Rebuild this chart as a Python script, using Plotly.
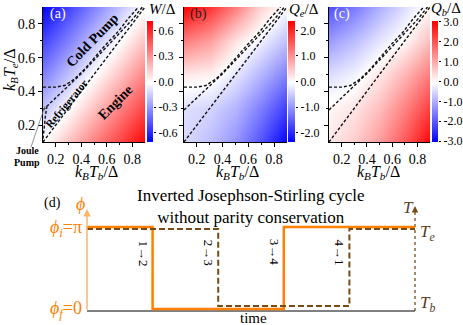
import math
import plotly.graph_objects as go

# ── Canvas helpers (pixel -> paper) ───────────────────────────────────────────
W_PX, H_PX = 463, 325
SERIF = "Liberation Serif"


def px(x):
    return x / W_PX


def py(y):
    return 1 - y / H_PX


# ── Data: maps on a coarse (Tb, Te) grid ─────────────────────────────────────
tb_grid = [0.1, 0.3, 0.5, 0.7, 0.9]
te_grid = [0.1, 0.3, 0.5, 0.7, 0.9]

work = [  # W / Delta, rows = Te, cols = Tb
    [0.00, 0.17, 0.35, 0.52, 0.70],
    [-0.17, 0.00, 0.17, 0.35, 0.52],
    [-0.35, -0.17, 0.00, 0.17, 0.35],
    [-0.52, -0.35, -0.17, 0.00, 0.17],
    [-0.70, -0.52, -0.35, -0.17, 0.00],
]
heat_e = [  # Q_e / Delta
    [-0.35, -0.60, -1.00, -1.60, -2.35],
    [-0.30, -0.40, -0.70, -1.20, -1.80],
    [0.20, 0.13, -0.25, -0.70, -1.20],
    [1.20, 0.90, 0.25, -0.15, -0.60],
    [2.35, 1.90, 1.20, 0.40, -0.05],
]
heat_b = [  # Q_b / Delta
    [0.25, 0.60, 1.20, 2.00, 3.00],
    [0.10, 0.30, 0.80, 1.50, 2.30],
    [-0.40, -0.15, 0.30, 0.90, 1.60],
    [-1.20, -0.80, -0.30, 0.10, 0.80],
    [-2.10, -1.60, -0.95, -0.40, 0.10],
]

# colour-bar limits and ticks
w_lim, e_lim, b_lim = 0.71, 2.37, 3.05
w_ticks = [-0.6, -0.3, 0.0, 0.3, 0.6]
e_ticks = [-2.0, -1.0, 0.0, 1.0, 2.0]
b_ticks = [-3.0, -2.0, -1.0, 0.0, 1.0, 2.0, 3.0]

# boundary curves (dashed)
diag_tb = [0.1, 0.9]
diag_te = [0.1, 0.9]
upper_tb = [0.1, 0.2, 0.27, 0.35, 0.43, 0.51, 0.59, 0.69, 0.77, 0.85]
upper_te = [0.425, 0.425, 0.435, 0.475, 0.535, 0.605, 0.675, 0.755, 0.833, 0.9]
middle_tb = [0.1, 0.2, 0.3, 0.4, 0.5, 0.6, 0.7, 0.8, 0.88]
middle_te = [0.29, 0.36, 0.43, 0.505, 0.585, 0.665, 0.745, 0.825, 0.9]
joule_tb = [0.1, 0.11, 0.12, 0.13]
joule_te = [0.12, 0.2, 0.26, 0.31]

# ── Data: cycle in panel (d) ──────────────────────────────────────────────────
PHI_I, PHI_F = math.pi, 0.0
T_B, T_E = 1.0, 2.0
phase_t = [0, 2, 6, 10]
phase_val = [PHI_I, PHI_F, PHI_I, PHI_I]
temp_t = [0, 4, 8, 10]
temp_val = [T_E, T_B, T_E, T_E]
step_t = [2, 4, 6, 8]
step_labels = ["1→2", "2→3", "3→4", "4→1"]

# ── Style ─────────────────────────────────────────────────────────────────────
BWR = [[0, "rgb(0,0,255)"], [0.5, "rgb(255,255,255)"], [1, "rgb(255,0,0)"]]
ORANGE = "#FF8000"
ORANGE_LIGHT = "#FFB366"
BROWN = "#7a4a14"
T_TEXT = "#5a3d1f"

fig = go.Figure()

panels = [
    ("x", "y", work, w_lim, "x5", "y6"),
    ("x2", "y2", heat_e, e_lim, "x6", "y7"),
    ("x3", "y3", heat_b, b_lim, "x7", "y8"),
]

for xa, ya, z, zlim, cxa, cya in panels:
    fig.add_trace(go.Heatmap(
        x=tb_grid, y=te_grid, z=z, zsmooth="best",
        colorscale=BWR, zmin=-zlim, zmax=zlim, showscale=False,
        xaxis=xa, yaxis=ya, hoverinfo="skip",
    ))
    # colour bar drawn as its own little heat map
    fig.add_trace(go.Heatmap(
        x=[0, 1], y=[-zlim, 0, zlim], z=[[-zlim, -zlim], [0, 0], [zlim, zlim]],
        zsmooth="best", colorscale=BWR, zmin=-zlim, zmax=zlim, showscale=False,
        xaxis=cxa, yaxis=cya, hoverinfo="skip",
    ))
    curves = [(diag_tb, diag_te), (middle_tb, middle_te), (upper_tb, upper_te)]
    if xa == "x":
        curves.append((joule_tb, joule_te))
    for cx, cy in curves:
        fig.add_trace(go.Scatter(
            x=cx, y=cy, mode="lines", showlegend=False,
            line=dict(color="#111", width=1.4, dash="3px,2px"),
            xaxis=xa, yaxis=ya, hoverinfo="skip",
        ))

# panel (d) traces
fig.add_trace(go.Scatter(
    x=temp_t, y=temp_val, mode="lines", line_shape="hv", showlegend=False,
    line=dict(color=BROWN, width=2, dash="6px,3px"),
    xaxis="x4", yaxis="y5",
))
fig.add_trace(go.Scatter(
    x=phase_t, y=phase_val, mode="lines", line_shape="hv", showlegend=False,
    line=dict(color=ORANGE, width=2.5),
    xaxis="x4", yaxis="y4",
))

# ── Axes ──────────────────────────────────────────────────────────────────────
tick_font = dict(family=SERIF, size=14, color="black")


def heat_x(x0, x1, anchor):
    return dict(
        domain=[px(x0), px(x1)], range=[0.1, 0.9], anchor=anchor,
        tickvals=[0.2, 0.4, 0.6, 0.8], ticktext=["0.2", "0.4", "0.6", "0.8"],
        ticks="outside", ticklen=4, tickcolor="black", tickfont=tick_font,
        minor=dict(tickvals=[0.3, 0.5, 0.7], ticks="outside", ticklen=2, tickcolor="black"),
        showline=True, linecolor="black", linewidth=1,
        showgrid=False, zeroline=False, automargin=False,
    )


def heat_y(anchor, labels):
    return dict(
        domain=[py(142), py(7)], range=[0.1, 0.9], anchor=anchor,
        tickvals=[0.2, 0.4, 0.6, 0.8], ticktext=["0.2", "0.4", "0.6", "0.8"],
        showticklabels=labels,
        ticks="outside", ticklen=4, tickcolor="black", tickfont=tick_font,
        minor=dict(tickvals=[0.3, 0.5, 0.7], ticks="outside", ticklen=2, tickcolor="black"),
        showline=True, linecolor="black", linewidth=1,
        showgrid=False, zeroline=False, automargin=False,
    )


def bar_x(x0, x1, anchor):
    return dict(domain=[px(x0), px(x1)], range=[0, 1], anchor=anchor, visible=False)


def bar_y(anchor, lim, ticks):
    return dict(
        domain=[py(142), py(21)], range=[-lim, lim], anchor=anchor, side="right",
        tickvals=ticks, ticktext=[f"{t:.1f}" for t in ticks],
        ticks="outside", ticklen=2, tickcolor="black",
        tickfont=dict(family=SERIF, size=12, color="black"),
        showline=False, showgrid=False, zeroline=False, automargin=False,
    )


phi_span = math.pi / 82
t_span = 1 / 77

fig.update_layout(
    width=W_PX, height=H_PX,
    margin=dict(l=0, r=0, t=0, b=0, autoexpand=False),
    paper_bgcolor="white", plot_bgcolor="white",
    font=dict(family=SERIF, color="black"),
    showlegend=False,
    xaxis=heat_x(43, 145, "y"), yaxis=heat_y("x", True),
    xaxis2=heat_x(184, 287, "y2"), yaxis2=heat_y("x2", False),
    xaxis3=heat_x(329, 430, "y3"), yaxis3=heat_y("x3", False),
    xaxis4=dict(domain=[px(87), px(415)], range=[0, 10], anchor="y4", visible=False),
    yaxis4=dict(domain=[py(313), py(207)], range=[-4 * phi_span, math.pi + 20 * phi_span],
                anchor="x4", visible=False),
    yaxis5=dict(overlaying="y4", range=[T_B - 7 * t_span, T_E + 22 * t_span],
                anchor="x4", visible=False),
    xaxis5=bar_x(147, 153, "y6"), yaxis6=bar_y("x5", w_lim, w_ticks),
    xaxis6=bar_x(288, 295, "y7"), yaxis7=bar_y("x6", e_lim, e_ticks),
    xaxis7=bar_x(432, 438, "y8"), yaxis8=bar_y("x7", b_lim, b_ticks),
)

# ── Decorations for panel (d) ─────────────────────────────────────────────────
shapes = [
    dict(type="line", xref="paper", yref="paper", x0=px(87), x1=px(415),
         y0=py(311), y1=py(311), line=dict(color="#808080", width=2), layer="below"),
    dict(type="line", xref="paper", yref="paper", x0=px(415), x1=px(415),
         y0=py(311), y1=py(212), line=dict(color=BROWN, width=1.3, dash="dot"), layer="below"),
    # Joule pump pointer
    dict(type="line", xref="paper", yref="paper", x0=px(31), x1=px(45),
         y0=py(147), y1=py(106), line=dict(color="#777", width=0.8)),
]

ann = []


def text(x, y, s, size, color="black", angle=0, xanchor="center", **kw):
    ann.append(dict(x=px(x), y=py(y), xref="paper", yref="paper", text=s,
                    showarrow=False, textangle=angle, xanchor=xanchor, yanchor="middle",
                    font=dict(family=SERIF, size=size, color=color), **kw))


# axis arrows
ann.append(dict(x=px(87), y=py(209), xref="paper", yref="paper", ax=0, ay=102,
                text="", showarrow=True, arrowhead=2, arrowsize=1, arrowwidth=1.5,
                arrowcolor=ORANGE_LIGHT))
ann.append(dict(x=px(415), y=py(206), xref="paper", yref="paper", ax=0, ay=8,
                text="", showarrow=True, arrowhead=2, arrowsize=1, arrowwidth=1.3,
                arrowcolor=BROWN))

# heat-map labels
text(48, 14, "(a)", 14, "white", xanchor="left")
text(188, 14, "(b)", 14, "#222", xanchor="left")
text(332, 14, "(c)", 14, "white", xanchor="left")
text(162, 9, "<i>W</i>/Δ", 15)
text(304, 10, "<i>Q</i><sub><i>e</i></sub>/Δ", 15)
text(446, 9, "<i>Q</i><sub><i>b</i></sub>/Δ", 15)
xt = "<i>k</i><sub><i>B</i></sub><i>T</i><sub><i>b</i></sub>/Δ"
for xc in (96, 237, 378):
    text(xc, 172, xt, 16)
text(10, 70, "<i>k</i><sub><i>B</i></sub><i>T</i><sub><i>e</i></sub>/Δ", 16, angle=-90)
text(92, 40, "<b>Cold Pump</b>", 14, angle=-46)
text(66, 104, "<b>Refrigerator</b>", 11, angle=-50)
text(115, 102, "<b>Engine</b>", 14, angle=-45)
text(27, 150, "<b>Joule</b>", 10)
text(27, 163, "<b>Pump</b>", 10)

# panel (d) labels
text(52, 203, "(d)", 14)
text(251, 206, "Inverted Josephson-Stirling cycle<br>without parity conservation", 17)
text(80, 204, "<i>ϕ</i>", 18, ORANGE)
text(84, 228, "<i>ϕ</i><sub><i>i</i></sub>=π", 18, ORANGE, xanchor="right")
text(84, 309, "<i>ϕ</i><sub><i>f</i></sub>=0", 18, ORANGE, xanchor="right")
text(408, 207, "<i>T</i>", 17, T_TEXT)
text(418, 233, "<i>T</i><sub><i>e</i></sub>", 17, T_TEXT, xanchor="left")
text(418, 304, "<i>T</i><sub><i>b</i></sub>", 17, T_TEXT, xanchor="left")
text(253, 318, "time", 15)

for t, lab in zip(step_t, step_labels):
    ann.append(dict(x=t, y=py(268), xref="x4", yref="paper", xshift=-9, text=lab,
                    showarrow=False, textangle=90,
                    font=dict(family=SERIF, size=13, color="black")))

fig.update_layout(shapes=shapes, annotations=ann)

fig.write_html("out.html", config={"displayModeBar": False},
               post_script="document.body.style.margin='0px';")
